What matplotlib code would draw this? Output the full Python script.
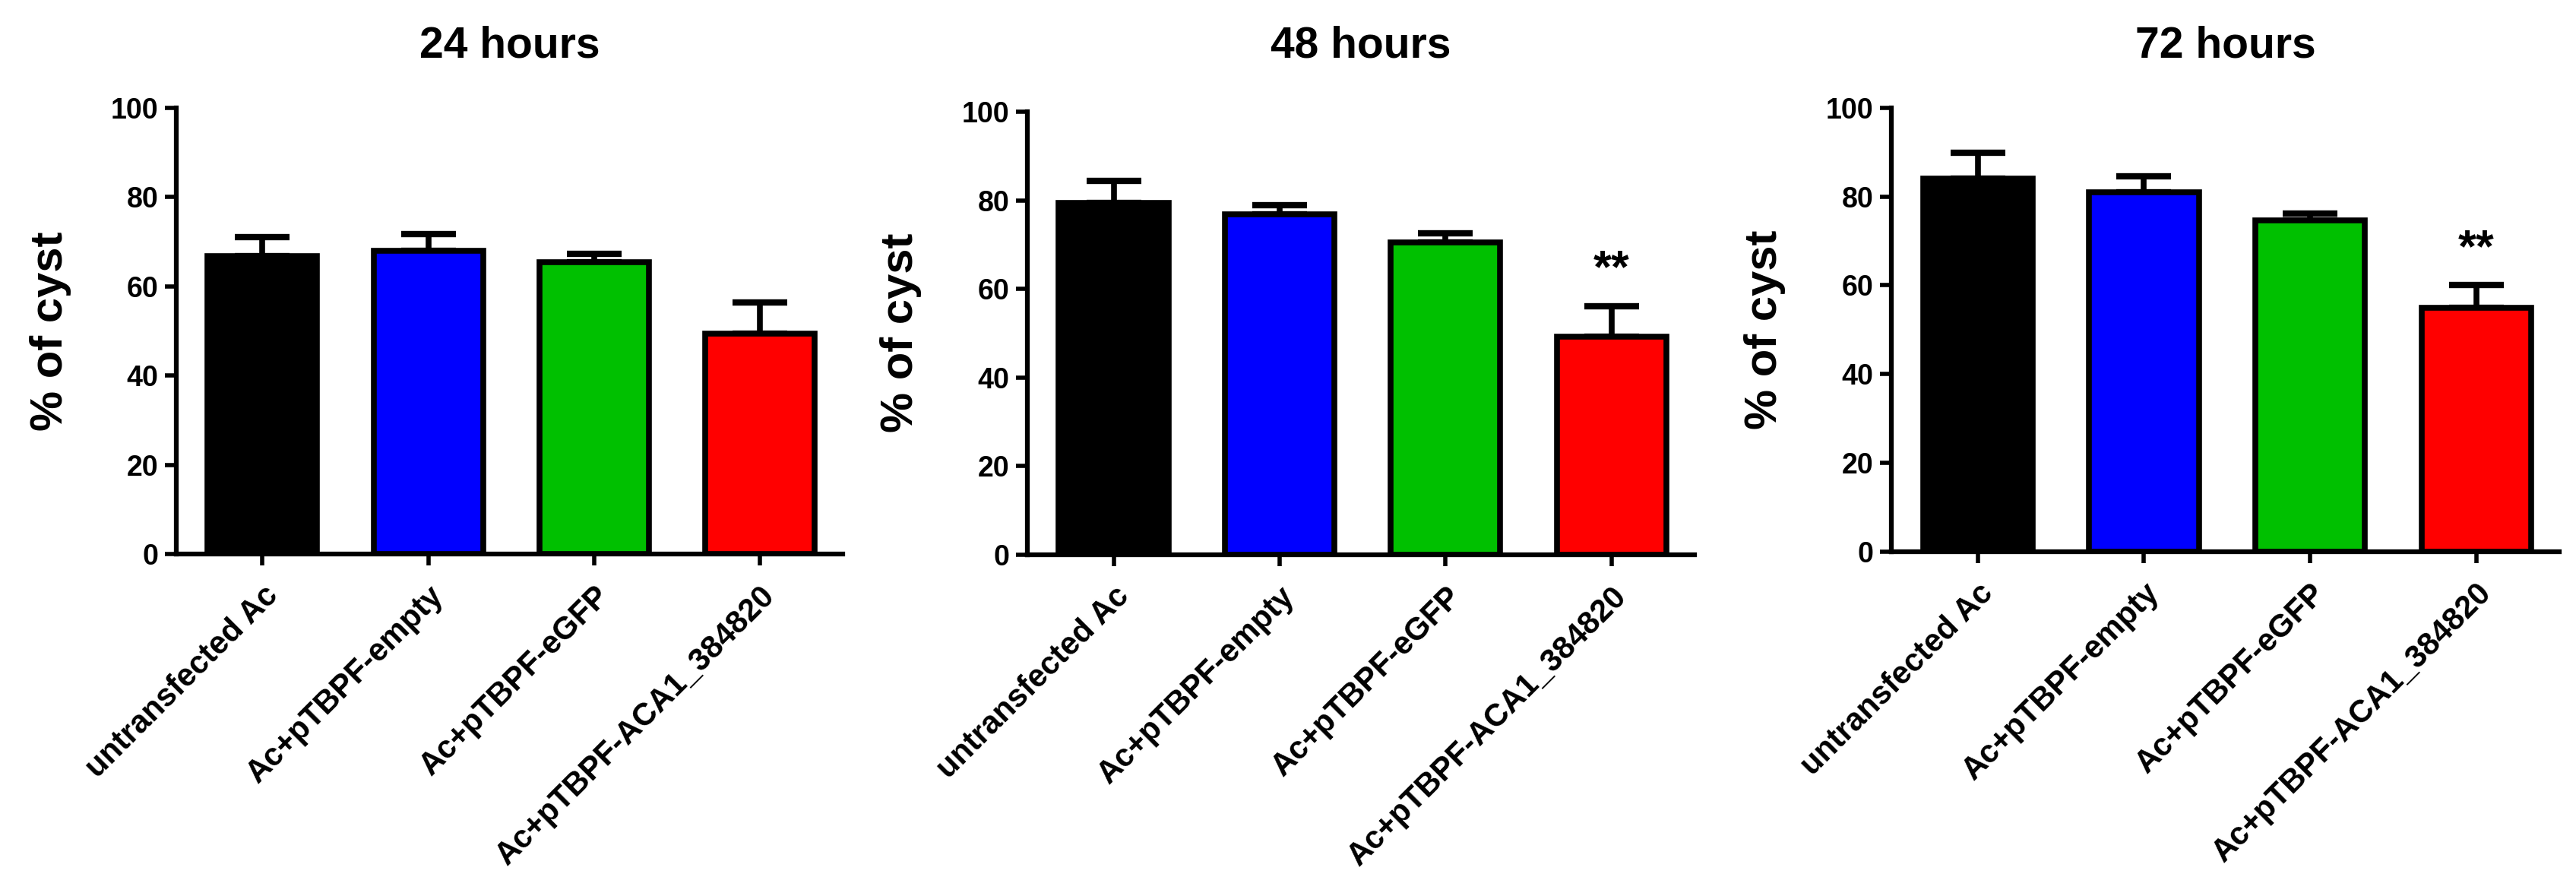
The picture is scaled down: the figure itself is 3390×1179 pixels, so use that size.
import matplotlib
matplotlib.use("Agg")
import matplotlib.pyplot as plt

plt.rcParams['font.family'] = ['Liberation Sans', 'DejaVu Sans']
plt.rcParams['font.weight'] = 'bold'

# groupes et couleurs
groupes = ['untransfected Ac', 'Ac+pTBPF-empty', 'Ac+pTBPF-eGFP', 'Ac+pTBPF-ACA1_384820']
couleurs = ['#000000', '#0000FF', '#00C000', '#FF0000']

# valeurs (moyenne et erreur vers le haut)
titres = ['24 hours', '48 hours', '72 hours']
moy_24 = [66.8, 67.9, 65.5, 49.4]
err_24 = [4.2, 3.8, 1.8, 7.0]
moy_48 = [79.4, 76.9, 70.5, 49.2]
err_48 = [5.0, 2.0, 2.0, 6.9]
moy_72 = [84.0, 80.9, 74.6, 55.0]
err_72 = [5.9, 3.7, 1.5, 5.0]
etoiles = ['', '**', '**']
yticks = [0, 20, 40, 60, 80, 100]

W, H = 3391, 1179
fig = plt.figure(figsize=(W / 100, H / 100), dpi=100)

# position des axes en pixels (gauche, droite, haut, bas)
boites = [(232, 1109, 142, 729), (1352, 2230, 147, 729.6), (2489, 3368, 142, 725.5)]
donnees = [(moy_24, err_24), (moy_48, err_48), (moy_72, err_72)]

for k in range(3):
    g, d, h, b = boites[k]
    ax = fig.add_axes([g / W, 1 - b / H, (d - g) / W, (b - h) / H])
    moy, err = donnees[k]
    x = list(range(len(groupes)))
    # barres d'erreur (seulement vers le haut), derriere les barres
    ax.errorbar(x, moy, yerr=[[0] * 4, err], fmt='none', ecolor='black',
                elinewidth=5.5, capsize=26, capthick=6, zorder=1)
    ax.bar(x, moy, width=0.66, color=couleurs, edgecolor='black', linewidth=5.5, zorder=2)
    if etoiles[k]:
        ax.text(3, moy[3] + err[3] + 5.4, etoiles[k], ha='center', va='baseline',
                fontsize=44, fontweight='bold')
    ax.set_xlim(-0.52, 3.5)
    ax.set_ylim(0, 100)
    ax.set_yticks(yticks)
    ax.set_xticks(x)
    ax.set_xticklabels(groupes, rotation=45, ha='right', va='top', rotation_mode='anchor',
                       fontsize=30, fontweight='bold')
    ax.tick_params(axis='y', labelsize=27, length=11, width=4, pad=6)
    ax.tick_params(axis='x', length=11, width=4, pad=14)
    for lab in ax.get_yticklabels():
        lab.set_fontweight('bold')
    ax.spines['top'].set_visible(False)
    ax.spines['right'].set_visible(False)
    ax.spines['left'].set_linewidth(4.5)
    ax.spines['bottom'].set_linewidth(4.5)
    ax.patch.set_alpha(0)
    # titre et label de l'axe y
    fig.text((g + d) / 2 / W, 1 - 75 / H, titres[k], ha='center', va='baseline',
             fontsize=41, fontweight='bold')
    ax.text(-166 / (d - g), 0.5, '% of cyst', transform=ax.transAxes, rotation=90,
            ha='center', va='center', fontsize=43, fontweight='bold')

fig.savefig('out.png', dpi=100)
